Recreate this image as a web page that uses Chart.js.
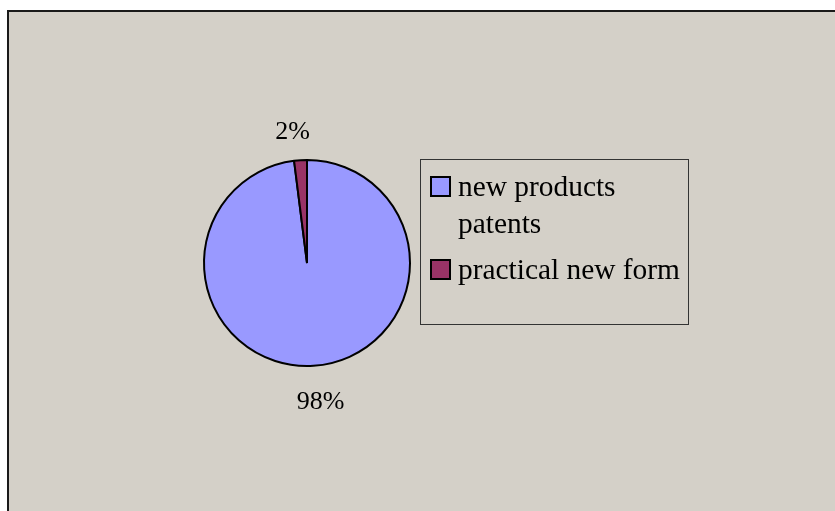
<!DOCTYPE html>
<html lang="en">
<head>
    <meta charset="UTF-8">
    <title>Patents pie</title>
    <script src="https://cdn.jsdelivr.net/npm/chart.js"></script>
    <style>
        body { margin: 0; background: #fff; width: 835px; height: 511px; overflow: hidden; position: relative; }
        .frame {
            position: absolute; left: 7px; top: 10px; width: 840px; height: 520px;
            background: #D4D0C8; border-left: 2px solid #1a1a1a; border-top: 2px solid #1a1a1a;
        }
        #pie { position: absolute; left: 137px; top: 93px; }
        .legend {
            position: absolute; left: 420px; top: 159px; width: 269px; height: 166px;
            border: 1px solid #333; font-family: "Liberation Serif", "Times New Roman", serif;
            font-size: 29.4px; line-height: 37px; color: #000; padding-top: 8px; box-sizing: border-box;
        }
        .item { position: relative; padding-left: 37px; width: 230px; margin-bottom: 9px; }
        .swatch {
            position: absolute; left: 9px; top: 8px; width: 17px; height: 17px;
            border: 2px solid #000;
        }
    </style>
</head>
<body>
    <div class="frame"></div>
    <canvas id="pie" width="340" height="340"></canvas>
    <div class="legend" id="legend"></div>

    <script>
        const categories = ['new products patents', 'practical new form'];
        const shares = [98, 2];
        const sliceColors = ['#9999FF', '#993366'];

        // legend built from the same arrays
        const legend = document.getElementById('legend');
        categories.forEach((name, i) => {
            const item = document.createElement('div');
            item.className = 'item';
            const sw = document.createElement('span');
            sw.className = 'swatch';
            sw.style.background = sliceColors[i];
            item.appendChild(sw);
            item.appendChild(document.createTextNode(name));
            legend.appendChild(item);
        });

        // percent labels outside each slice
        const pctLabels = {
            id: 'pctLabels',
            afterDatasetsDraw(chart) {
                const ctx = chart.ctx;
                const meta = chart.getDatasetMeta(0);
                ctx.save();
                ctx.font = '26px "Liberation Serif"';
                ctx.fillStyle = '#000';
                ctx.textAlign = 'center';
                ctx.textBaseline = 'middle';
                meta.data.forEach((arc, i) => {
                    const p = arc.getProps(['x', 'y', 'startAngle', 'endAngle', 'outerRadius'], true);
                    const mid = (p.startAngle + p.endAngle) / 2;
                    const r = p.outerRadius + 32;
                    // push labels a little away from the vertical axis, like the original
                    const nudge = Math.cos(mid) < 0 ? -6 : 5;
                    ctx.fillText(shares[i] + '%', p.x + Math.cos(mid) * r + nudge, p.y + Math.sin(mid) * r + 4);
                });
                ctx.restore();
            }
        };

        new Chart(document.getElementById('pie'), {
            type: 'pie',
            data: {
                labels: categories,
                datasets: [{
                    data: shares,
                    backgroundColor: sliceColors,
                    borderColor: '#000',
                    borderWidth: 2
                }]
            },
            options: {
                responsive: false,
                animation: false,
                layout: { padding: 66 },
                plugins: {
                    legend: { display: false },
                    tooltip: { enabled: false }
                }
            },
            plugins: [pctLabels]
        });
    </script>
</body>
</html>
